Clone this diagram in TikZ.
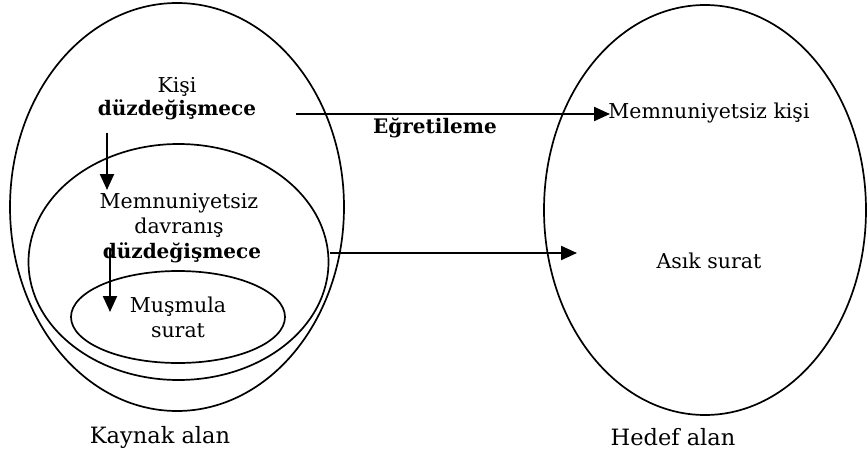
\documentclass[tikz,border=0pt]{standalone}
\usepackage{fontspec}
\setmainfont{DejaVu Serif}
\usetikzlibrary{arrows.meta}

\tikzset{
  lbl/.style={anchor=base, inner sep=0pt, font=\fontsize{20.5}{24}\selectfont},
  blbl/.style={lbl, font=\fontsize{20}{24}\selectfont\bfseries},
  alan/.style={lbl, font=\fontsize{22.5}{26}\selectfont},
  ring/.style={line width=1.7pt},
  arr/.style={line width=2.2pt, -{Triangle[length=16pt,width=14pt]}}
}

\begin{document}
\begin{tikzpicture}[x=1pt, y=-1pt]

\useasboundingbox (0,0) rectangle (868,453);

\coordinate (Kaynak) at (177,207);
\coordinate (Davr) at (178.5,262);
\coordinate (Surat) at (178,317);
\coordinate (Hedef) at (705,210);

\draw[ring] (Kaynak) ellipse (167 and 204);
\draw[ring] (Davr) ellipse (150 and 118);
\draw[ring] (Surat) ellipse (107 and 46);
\draw[ring] (Hedef) ellipse (161 and 205);

\node[lbl] (kisi) at (177,92) {Kişi};
\node[blbl] (duzA) at (177,115) {düzdeğişmece};
\node[lbl] (memnun) at (179,208) {Memnuniyetsiz};
\node[lbl] (davranis) at (179,233) {davranış};
\node[blbl] (duzB) at (182,258) {düzdeğişmece};
\node[lbl] (musmula) at (178,312) {Muşmula};
\node[lbl] (surat) at (178,337) {surat};
\node[lbl] (memkisi) at (709,118) {Memnuniyetsiz kişi};
\node[lbl] (asik) at (709,268) {Asık surat};
\node[blbl] (egret) at (435,133) {Eğretileme};
\node[alan] (kaynak) at (160,443) {Kaynak alan};
\node[alan] (hedef) at (673,445) {Hedef alan};

\coordinate (P1) at (296,114);
\coordinate (Q1) at (610,114);
\coordinate (P2) at (330,253);
\coordinate (Q2) at (577,253);
\coordinate (P3) at (107,133);
\coordinate (Q3) at (107,190);
\coordinate (P4) at (110,248);
\coordinate (Q4) at (110,312);

\draw[arr] (P1) -- (Q1);
\draw[arr] (P2) -- (Q2);
\draw[arr] (P3) -- (Q3);
\draw[arr] (P4) -- (Q4);

\end{tikzpicture}
\end{document}
